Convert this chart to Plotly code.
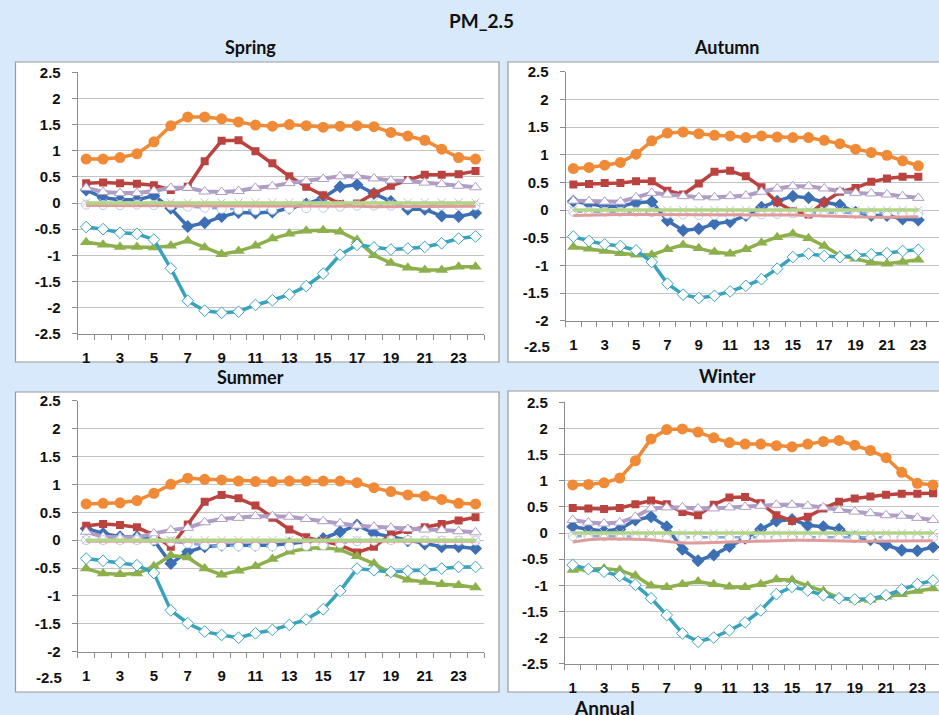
import plotly.graph_objects as go

hours = list(range(1, 25))
tick_hours = [1, 3, 5, 7, 9, 11, 13, 15, 17, 19, 21, 23]
y_ticks_full = [-2.5, -2, -1.5, -1, -0.5, 0, 0.5, 1, 1.5, 2, 2.5]
y_ticks_cut = [-2, -1.5, -1, -0.5, 0, 0.5, 1, 1.5, 2, 2.5]

# ---------------- Spring ----------------
spring_blue = [0.25, 0.10, 0.06, 0.06, 0.14, -0.10, -0.45, -0.38, -0.26, -0.18, -0.19, -0.17, -0.10, -0.02, 0.10, 0.31, 0.35, 0.18, 0.03, -0.12, -0.12, -0.25, -0.26, -0.19]
spring_red = [0.38, 0.39, 0.38, 0.37, 0.34, 0.25, 0.31, 0.80, 1.19, 1.20, 0.99, 0.76, 0.51, 0.31, 0.15, -0.02, -0.01, 0.18, 0.33, 0.44, 0.54, 0.54, 0.55, 0.61]
spring_green = [-0.75, -0.80, -0.84, -0.84, -0.85, -0.82, -0.72, -0.85, -0.98, -0.92, -0.82, -0.68, -0.59, -0.53, -0.52, -0.55, -0.71, -1.00, -1.15, -1.24, -1.28, -1.28, -1.22, -1.22]
spring_purple = [0.29, 0.21, 0.19, 0.19, 0.23, 0.29, 0.29, 0.22, 0.21, 0.23, 0.29, 0.32, 0.38, 0.42, 0.46, 0.51, 0.51, 0.47, 0.43, 0.42, 0.39, 0.36, 0.33, 0.30]
spring_teal = [-0.46, -0.50, -0.57, -0.59, -0.70, -1.25, -1.87, -2.06, -2.10, -2.08, -1.95, -1.86, -1.75, -1.59, -1.35, -0.99, -0.80, -0.85, -0.89, -0.87, -0.84, -0.77, -0.68, -0.64]
spring_orange = [0.84, 0.84, 0.87, 0.94, 1.17, 1.48, 1.645, 1.645, 1.61, 1.55, 1.49, 1.47, 1.50, 1.48, 1.45, 1.47, 1.48, 1.46, 1.35, 1.28, 1.20, 1.03, 0.87, 0.84]
spring_circle = [-0.03, -0.04, -0.04, -0.03, -0.04, -0.05, -0.07, -0.09, -0.11, -0.13, -0.14, -0.13, -0.11, -0.10, -0.09, -0.07, -0.05, -0.05, -0.05, -0.05, -0.05, -0.05, -0.05, -0.05]
spring_cross = [0.01, 0.01, 0.01, 0.01, 0.01, 0.01, 0.01, 0.01, 0.01, 0.01, 0.01, 0.01, 0.01, 0.01, 0.01, 0.01, 0.01, 0.01, 0.01, 0.01, 0.01, 0.01, 0.01, 0.01]
spring_pink = [-0.05, -0.05, -0.05, -0.05, -0.05, -0.05, -0.05, -0.05, -0.06, -0.06, -0.06, -0.06, -0.06, -0.06, -0.06, -0.06, -0.06, -0.07, -0.07, -0.07, -0.07, -0.07, -0.06, -0.06]
spring_zero = [0, 0, 0, 0, 0, 0, 0, 0, 0, 0, 0, 0, 0, 0, 0, 0, 0, 0, 0, 0, 0, 0, 0, 0]

# ---------------- Autumn (23 hours visible) ----------------
autumn_blue = [0.16, 0.11, 0.07, 0.07, 0.13, 0.15, -0.19, -0.37, -0.34, -0.25, -0.21, -0.10, 0.05, 0.16, 0.25, 0.22, 0.14, 0.09, -0.04, -0.10, -0.10, -0.16, -0.18]
autumn_red = [0.46, 0.47, 0.49, 0.49, 0.52, 0.52, 0.35, 0.28, 0.48, 0.69, 0.71, 0.61, 0.41, 0.14, -0.02, -0.08, 0.14, 0.33, 0.40, 0.51, 0.57, 0.60, 0.60]
autumn_green = [-0.67, -0.70, -0.74, -0.78, -0.81, -0.81, -0.71, -0.63, -0.69, -0.76, -0.79, -0.71, -0.59, -0.49, -0.43, -0.51, -0.65, -0.82, -0.88, -0.95, -0.97, -0.94, -0.90]
autumn_purple = [0.17, 0.16, 0.15, 0.15, 0.23, 0.31, 0.28, 0.25, 0.23, 0.23, 0.25, 0.26, 0.33, 0.39, 0.43, 0.43, 0.39, 0.34, 0.31, 0.30, 0.28, 0.25, 0.22]
autumn_teal = [-0.48, -0.56, -0.62, -0.65, -0.73, -0.94, -1.33, -1.53, -1.59, -1.55, -1.47, -1.37, -1.25, -1.06, -0.85, -0.79, -0.83, -0.85, -0.82, -0.80, -0.78, -0.74, -0.72]
autumn_orange = [0.75, 0.77, 0.81, 0.86, 1.01, 1.25, 1.39, 1.41, 1.38, 1.35, 1.34, 1.31, 1.34, 1.32, 1.31, 1.31, 1.26, 1.20, 1.10, 1.04, 0.99, 0.89, 0.80]
autumn_circle = [-0.03, -0.03, -0.03, -0.03, -0.03, -0.04, -0.07, -0.08, -0.09, -0.09, -0.09, -0.08, -0.08, -0.07, -0.06, -0.05, -0.05, -0.05, -0.06, -0.06, -0.06, -0.06, -0.06]
autumn_cross = [0.0, 0.0, 0.0, 0.0, 0.0, 0.0, 0.0, 0.0, 0.0, 0.0, 0.0, 0.0, 0.0, 0.0, 0.0, 0.0, 0.0, 0.0, 0.0, 0.0, 0.0, 0.0, 0.0]
autumn_pink = [-0.10, -0.09, -0.08, -0.08, -0.08, -0.08, -0.08, -0.09, -0.09, -0.09, -0.09, -0.09, -0.09, -0.09, -0.09, -0.10, -0.11, -0.12, -0.13, -0.13, -0.13, -0.12, -0.12]
autumn_zero = [0, 0, 0, 0, 0, 0, 0, 0, 0, 0, 0, 0, 0, 0, 0, 0, 0, 0, 0, 0, 0, 0, 0]

# ---------------- Summer ----------------
summer_blue = [0.21, 0.12, 0.06, 0.06, 0.00, -0.42, -0.21, -0.12, -0.09, -0.09, -0.09, -0.09, -0.06, -0.03, 0.03, 0.15, 0.27, 0.12, 0.06, -0.01, -0.07, -0.12, -0.12, -0.15]
summer_red = [0.26, 0.29, 0.27, 0.23, 0.09, -0.12, 0.28, 0.69, 0.81, 0.75, 0.62, 0.40, 0.19, 0.05, -0.02, -0.09, -0.22, -0.12, 0.10, 0.18, 0.23, 0.29, 0.35, 0.41]
summer_green = [-0.51, -0.60, -0.61, -0.60, -0.47, -0.27, -0.31, -0.51, -0.62, -0.55, -0.47, -0.34, -0.21, -0.15, -0.13, -0.17, -0.29, -0.42, -0.60, -0.71, -0.75, -0.79, -0.81, -0.85]
summer_purple = [0.15, 0.06, 0.05, 0.05, 0.12, 0.18, 0.22, 0.32, 0.38, 0.40, 0.43, 0.43, 0.42, 0.38, 0.34, 0.30, 0.26, 0.24, 0.22, 0.20, 0.19, 0.18, 0.16, 0.14]
summer_teal = [-0.33, -0.37, -0.40, -0.45, -0.59, -1.26, -1.49, -1.64, -1.70, -1.75, -1.67, -1.61, -1.52, -1.42, -1.24, -0.91, -0.51, -0.54, -0.57, -0.55, -0.54, -0.51, -0.48, -0.48]
summer_orange = [0.65, 0.66, 0.67, 0.71, 0.84, 1.00, 1.11, 1.09, 1.08, 1.06, 1.05, 1.05, 1.06, 1.06, 1.06, 1.06, 1.03, 0.94, 0.87, 0.81, 0.79, 0.73, 0.66, 0.65]
summer_circle = [0.0, 0.0, 0.0, 0.0, 0.0, -0.03, -0.06, -0.09, -0.10, -0.11, -0.11, -0.11, -0.11, -0.10, -0.09, -0.06, -0.02, -0.01, 0.0, 0.0, -0.01, -0.01, -0.01, -0.01]
summer_cross = [0.0, 0.0, 0.0, 0.0, 0.0, 0.0, 0.0, 0.0, 0.0, 0.0, 0.0, 0.0, 0.0, 0.0, 0.0, 0.0, 0.0, 0.0, 0.0, 0.0, 0.0, 0.0, 0.0, 0.0]
summer_pink = [-0.02, -0.02, -0.02, -0.02, -0.02, -0.02, -0.02, -0.02, -0.02, -0.02, -0.02, -0.02, -0.02, -0.02, -0.02, -0.02, -0.02, -0.02, -0.02, -0.02, -0.02, -0.02, -0.02, -0.02]
summer_zero = [0, 0, 0, 0, 0, 0, 0, 0, 0, 0, 0, 0, 0, 0, 0, 0, 0, 0, 0, 0, 0, 0, 0, 0]

# ---------------- Winter ----------------
winter_blue = [0.12, 0.07, 0.04, 0.07, 0.25, 0.31, 0.12, -0.31, -0.53, -0.42, -0.26, -0.10, 0.07, 0.23, 0.26, 0.15, 0.12, 0.07, -0.07, -0.13, -0.23, -0.33, -0.34, -0.27]
winter_red = [0.48, 0.47, 0.46, 0.48, 0.55, 0.62, 0.55, 0.40, 0.34, 0.54, 0.68, 0.69, 0.57, 0.34, 0.23, 0.31, 0.47, 0.60, 0.66, 0.70, 0.73, 0.75, 0.75, 0.76]
winter_green = [-0.71, -0.70, -0.68, -0.71, -0.82, -1.01, -1.04, -0.98, -0.93, -0.98, -1.03, -1.04, -0.98, -0.89, -0.90, -1.01, -1.11, -1.24, -1.28, -1.28, -1.22, -1.17, -1.11, -1.06]
winter_purple = [0.25, 0.20, 0.18, 0.20, 0.31, 0.47, 0.49, 0.49, 0.47, 0.47, 0.49, 0.50, 0.52, 0.54, 0.54, 0.52, 0.49, 0.44, 0.41, 0.38, 0.34, 0.33, 0.29, 0.25]
winter_teal = [-0.61, -0.69, -0.74, -0.82, -0.99, -1.25, -1.57, -1.92, -2.08, -2.00, -1.86, -1.71, -1.48, -1.17, -1.03, -1.10, -1.19, -1.25, -1.27, -1.26, -1.19, -1.08, -0.98, -0.91]
winter_orange = [0.92, 0.93, 0.96, 1.05, 1.38, 1.80, 1.98, 1.99, 1.93, 1.82, 1.73, 1.70, 1.70, 1.67, 1.65, 1.70, 1.75, 1.77, 1.68, 1.58, 1.44, 1.16, 0.95, 0.92]
winter_circle = [-0.06, -0.06, -0.06, -0.06, -0.06, -0.07, -0.07, -0.08, -0.08, -0.08, -0.08, -0.08, -0.08, -0.08, -0.08, -0.08, -0.08, -0.08, -0.08, -0.08, -0.08, -0.08, -0.08, -0.08]
winter_cross = [0.0, 0.0, 0.0, 0.0, 0.0, 0.0, 0.0, 0.0, 0.0, 0.0, 0.0, 0.0, 0.0, 0.0, 0.0, 0.0, 0.0, 0.0, 0.0, 0.0, 0.0, 0.0, 0.0, 0.0]
winter_pink = [-0.17, -0.13, -0.11, -0.11, -0.12, -0.13, -0.16, -0.19, -0.19, -0.18, -0.17, -0.16, -0.15, -0.15, -0.14, -0.14, -0.15, -0.15, -0.16, -0.16, -0.16, -0.16, -0.15, -0.15]
winter_zero = [0, 0, 0, 0, 0, 0, 0, 0, 0, 0, 0, 0, 0, 0, 0, 0, 0, 0, 0, 0, 0, 0, 0, 0]

W, H = 939, 715
BG = "#D8E9FB"
TICK_FONT = dict(family="Liberation Sans, Arial, sans-serif", size=15, color="#111111", weight="bold")
TITLE_FONT = "Lato, Carlito, Calibri, sans-serif"

# series styles in drawing order (later = on top)
styles = [
    ("blue", dict(color="#3C6FB3", width=3.5), dict(symbol="diamond", size=10, color="#3C6FB3")),
    ("red", dict(color="#BA4340", width=3.5), dict(symbol="square", size=8, color="#BA4340")),
    ("green", dict(color="#8DB04C", width=3.5), dict(symbol="triangle-up", size=11, color="#8DB04C")),
    ("purple", dict(color="#AF9DC6", width=4), dict(symbol="triangle-up", size=10, color="white", line=dict(color="#AF9DC6", width=1))),
    ("teal", dict(color="#39A3BE", width=3.5), dict(symbol="diamond", size=9, color="white", line=dict(color="#39A3BE", width=1))),
    ("orange", dict(color="#F08A36", width=3.5), dict(symbol="circle", size=11, color="#F08A36")),
    ("circle", dict(color="#86AADB", width=2.5, dash="dash"), dict(symbol="circle", size=9, color="white", line=dict(color="#B9CDE5", width=1))),
    ("cross", dict(color="#D5CBE3", width=1.5), dict(symbol="x-thin-open", size=8, color="#C7BAD9", line=dict(color="#C7BAD9", width=1))),
    ("pink", dict(color="#E09C9A", width=3), None),
    ("zero", dict(color="#B2D588", width=3.5), None),
]

panels = [
    dict(name="Spring", data=dict(blue=spring_blue, red=spring_red, green=spring_green, purple=spring_purple, teal=spring_teal,
                                  orange=spring_orange, circle=spring_circle, cross=spring_cross, pink=spring_pink, zero=spring_zero),
         box=(15.5, 62, 499, 362), xpx=(77.7, 484), ypx=(72.3, 333.7), yr=[-2.5, 2.5], cut=False, xr=[0.5, 24.5], tx=250),
    dict(name="Autumn", data=dict(blue=autumn_blue, red=autumn_red, green=autumn_green, purple=autumn_purple, teal=autumn_teal,
                                  orange=autumn_orange, circle=autumn_circle, cross=autumn_cross, pink=autumn_pink, zero=autumn_zero),
         box=(508, 62, 941, 362), xpx=(565.5, 939), ypx=(71.7, 320.7), yr=[-2, 2.5], cut=True, xr=[0.5, 24.32], tx=727),
    dict(name="Summer", data=dict(blue=summer_blue, red=summer_red, green=summer_green, purple=summer_purple, teal=summer_teal,
                                  orange=summer_orange, circle=summer_circle, cross=summer_cross, pink=summer_pink, zero=summer_zero),
         box=(15.5, 392, 499, 692), xpx=(77.7, 484), ypx=(400.7, 651.7), yr=[-2, 2.5], cut=True, xr=[0.5, 24.5], tx=250),
    dict(name="Winter", data=dict(blue=winter_blue, red=winter_red, green=winter_green, purple=winter_purple, teal=winter_teal,
                                  orange=winter_orange, circle=winter_circle, cross=winter_cross, pink=winter_pink, zero=winter_zero),
         box=(508, 391, 941, 692), xpx=(564.9, 939), ypx=(402.3, 663.7), yr=[-2.5, 2.5], cut=False, xr=[0.5, 24.38], tx=727),
]

fig = go.Figure()
shapes = []
annotations = []

for i, p in enumerate(panels):
    k = i + 1
    xa = "x" if k == 1 else f"x{k}"
    ya = "y" if k == 1 else f"y{k}"
    xkey = "xaxis" if k == 1 else f"xaxis{k}"
    ykey = "yaxis" if k == 1 else f"yaxis{k}"
    bx0, by0, bx1, by1 = p["box"]
    shapes.append(dict(type="rect", xref="paper", yref="paper", x0=bx0 / W, x1=bx1 / W,
                       y0=1 - by1 / H, y1=1 - by0 / H, fillcolor="white",
                       line=dict(color="#9A9A9A", width=1.2), layer="below"))
    for name, line, marker in styles:
        vals = p["data"][name]
        xs = hours[:len(vals)]
        tr = dict(x=xs, y=vals, xaxis=xa, yaxis=ya, line=line, showlegend=False,
                  hoverinfo="skip", cliponaxis=True)
        if marker is None:
            tr["mode"] = "lines"
        else:
            tr["mode"] = "lines+markers"
            tr["marker"] = marker
        fig.add_trace(go.Scatter(**tr))

    yt = y_ticks_cut if p["cut"] else y_ticks_full
    fig.update_layout(**{
        xkey: dict(domain=[p["xpx"][0] / W, min(p["xpx"][1] / W, 1.0)], anchor=ya, range=p["xr"],
                   tickmode="array", tickvals=tick_hours, ticktext=[str(h) for h in tick_hours],
                   ticks="", showgrid=False, zeroline=False, showline=True, automargin=False,
                   linecolor="#8C8C8C", linewidth=1, tickfont=TICK_FONT, ticklabelstandoff=10,
                   minor=dict(tickmode="linear", tick0=0.5, dtick=1, ticks="outside", ticklen=5,
                              tickcolor="#8C8C8C", showgrid=False)),
        ykey: dict(domain=[1 - p["ypx"][1] / H, 1 - p["ypx"][0] / H], anchor=xa, range=p["yr"],
                   tickmode="array", tickvals=yt, ticktext=["%g" % v for v in yt], automargin=False,
                   ticks="outside", ticklen=5, tickcolor="#8C8C8C", showgrid=True,
                   gridcolor="#C4C4C4", gridwidth=1, zeroline=False, showline=True,
                   linecolor="#8C8C8C", linewidth=1, tickfont=TICK_FONT, ticklabelstandoff=8),
    })
    if p["cut"]:
        annotations.append(dict(text="-2.5", xref="paper", yref="paper",
                                x=(p["xpx"][0] - 14) / W, y=1 - (p["ypx"][1] + 26) / H,
                                xanchor="right", yanchor="middle", showarrow=False, font=TICK_FONT))
    annotations.append(dict(text="<b>%s</b>" % p["name"], xref="paper", yref="paper",
                            x=p["tx"] / W, y=1 - (by0 - 15) / H,
                            xanchor="center", yanchor="middle", showarrow=False,
                            font=dict(family=TITLE_FONT, size=18, color="#111")))

annotations.append(dict(text="<b>PM_2.5</b>", xref="paper", yref="paper", x=481 / W, y=1 - 20 / H,
                        xanchor="center", yanchor="middle", showarrow=False,
                        font=dict(family=TITLE_FONT, size=19, color="#111")))
annotations.append(dict(text="<b>Annual</b>", xref="paper", yref="paper", x=604 / W, y=1 - 707 / H,
                        xanchor="center", yanchor="middle", showarrow=False,
                        font=dict(family=TITLE_FONT, size=19, color="#111")))

fig.update_layout(width=W, height=H, margin=dict(l=0, r=0, t=0, b=0, autoexpand=False),
                  paper_bgcolor=BG, plot_bgcolor="white", shapes=shapes, annotations=annotations,
                  showlegend=False)
fig.write_html("out.html", config={"displayModeBar": False},
               post_script="document.body.style.margin='0';document.body.style.padding='0';"
                           "var d=document.getElementById('{plot_id}');d.style.position='absolute';"
                           "d.style.left='0px';d.style.top='0px';")
